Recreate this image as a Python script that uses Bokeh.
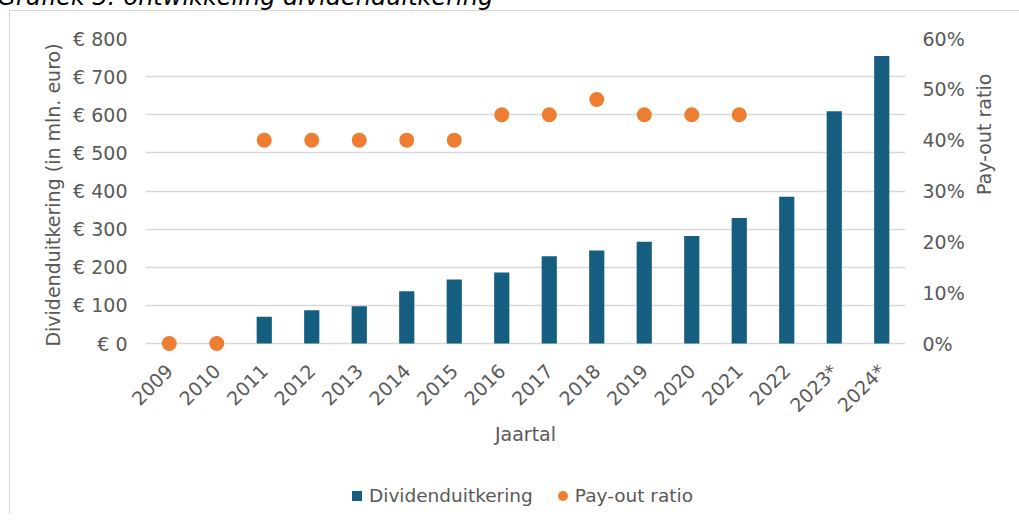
import math
from bokeh.plotting import figure
from bokeh.layouts import column
from bokeh.models import (FactorRange, Range1d, LinearAxis, FixedTicker, PrintfTickFormatter,
                          NumeralTickFormatter, Legend, LegendItem)
from bokeh.embed import file_html
from bokeh.resources import INLINE

# ---- data ----
years = ["2009", "2010", "2011", "2012", "2013", "2014", "2015", "2016",
         "2017", "2018", "2019", "2020", "2021", "2022", "2023*", "2024*"]
dividend = [0, 0, 70, 87, 98, 137, 168, 186, 229, 244, 267, 282, 329, 385, 609, 754]
payout_years = ["2009", "2010", "2011", "2012", "2013", "2014", "2015", "2016",
                "2017", "2018", "2019", "2020", "2021"]
payout = [0.0, 0.0, 0.40, 0.40, 0.40, 0.40, 0.40, 0.45, 0.45, 0.48, 0.45, 0.45, 0.45]
left_ticks = [0, 100, 200, 300, 400, 500, 600, 700, 800]
right_ticks = [0.0, 0.1, 0.2, 0.3, 0.4, 0.5, 0.6]
series_names = ["Dividenduitkering", "Pay-out ratio"]

BAR = "#165E80"
DOT = "#ED7D31"
TXT = "#595959"
GRID = "#d9d9d9"
FONT = "DejaVu Sans"
FS = "19px"

# geometry (canvas px; canvas = page + (0, SHIFT))
SHIFT = 56
W = 1019
H1 = 460 + SHIFT              # main figure: page -SHIFT .. 460
H2 = 514 + SHIFT - H1         # legend strip: page 460 .. 514
FL, FR = 145, 905
FT, ZERO = 38 + SHIFT, 343 + SHIFT
FB = ZERO + 8
pad_px = FB - ZERO
span_px = ZERO - FT
lstart = -pad_px * 800 / span_px
rstart = -pad_px * 0.6 / span_px

p = figure(width=W, height=H1, x_range=FactorRange(*years),
           y_range=Range1d(lstart, 800),
           output_backend="svg", toolbar_location=None,
           min_border_left=FL, min_border_right=W - FR,
           min_border_top=FT, min_border_bottom=H1 - FB)
p.extra_y_ranges = {"pct": Range1d(rstart, 0.6)}
p.outline_line_color = None
p.background_fill_color = "white"
p.border_fill_color = None

# title (cropped at top like the reference)
p.title.text = "Grafiek 3: ontwikkeling dividenduitkering"
p.title.text_font = FONT
p.title.text_font_size = "24px"
p.title.text_font_style = "italic"
p.title.text_color = "black"
p.title.align = "left"
p.title.offset = -148
p.title.standoff = 56

# grid
p.xgrid.grid_line_color = None
p.ygrid.ticker = FixedTicker(ticks=left_ticks)
p.ygrid.grid_line_color = GRID
p.ygrid.grid_line_width = 1.3

bars = p.vbar(x=years, top=dividend, bottom=0, width=0.32, color=BAR, line_color=None)
dots = p.scatter(x=payout_years, y=payout, size=15, color=DOT, line_color=None,
                 y_range_name="pct")

# axes
xa = p.xaxis[0]
xa.axis_label = "Jaartal"
xa.major_label_orientation = math.pi / 4
xa.major_label_standoff = 16
xa.axis_label_standoff = -4

ya = p.yaxis[0]
ya.ticker = FixedTicker(ticks=left_ticks)
ya.formatter = PrintfTickFormatter(format="€ %d")
ya.axis_label = "Dividenduitkering (in mln. euro)"
ya.axis_label_standoff = 6
ya.major_label_standoff = 18

ra = LinearAxis(y_range_name="pct", ticker=FixedTicker(ticks=right_ticks),
                formatter=NumeralTickFormatter(format="0%"),
                axis_label="Pay-out ratio")
ra.major_label_standoff = 17
ra.axis_label_standoff = 16
ra.axis_label_orientation = math.pi / 2
ra.axis_label_text_align = "center"
p.add_layout(ra, "right")

for ax in (xa, ya, ra):
    ax.axis_line_color = None
    ax.major_tick_line_color = None
    ax.minor_tick_line_color = None
    ax.major_tick_in = 0
    ax.major_tick_out = 0
    ax.major_label_text_font = FONT
    ax.major_label_text_font_size = FS
    ax.major_label_text_color = TXT
    ax.axis_label_text_font = FONT
    ax.axis_label_text_font_size = FS
    ax.axis_label_text_color = TXT
    ax.axis_label_text_font_style = "normal"

# legend strip (separate small figure, legend drawn inside its frame;
# the column aligns its frame with the main frame, so x is from x=145)
lf = figure(width=W, height=H2, x_range=Range1d(0, 1), y_range=Range1d(0, 1),
            output_backend="svg", toolbar_location=None,
            x_axis_location=None, y_axis_location=None,
            min_border=0, min_border_left=0, min_border_right=0,
            min_border_top=0, min_border_bottom=0)
lf.grid.visible = False
lf.outline_line_color = None
lf.background_fill_color = None
lf.border_fill_color = None
nan = float("nan")
sq = lf.scatter(x=[nan], y=[nan], marker="square", size=10, color=BAR, line_color=None)
ci = lf.scatter(x=[nan], y=[nan], marker="circle", size=10, color=DOT, line_color=None)
legend = Legend(items=[LegendItem(label=series_names[0], renderers=[sq]),
                       LegendItem(label=series_names[1], renderers=[ci])],
                orientation="horizontal", location=(199, H2 - 36 - 12),
                glyph_width=25, glyph_height=25, label_standoff=0, spacing=17,
                padding=0, margin=0, border_line_color=None, background_fill_alpha=0,
                label_text_font=FONT, label_text_font_size="18.5px", label_text_color=TXT)
lf.add_layout(legend, "center")

layout = column(p, lf, spacing=0)
bx, by = 9, 10 + SHIFT
layout.styles = {
    "margin-top": f"-{SHIFT}px",
    "margin-left": "0px",
    "background": (f"linear-gradient(#d6d6d6, #d6d6d6) {bx}px {by}px / 1px calc(100% - {by}px) no-repeat, "
                   f"linear-gradient(#d6d6d6, #d6d6d6) {bx}px {by}px / calc(100% - {bx}px) 1px no-repeat, "
                   "white"),
}

open("out.html", "w").write(file_html(layout, INLINE))
